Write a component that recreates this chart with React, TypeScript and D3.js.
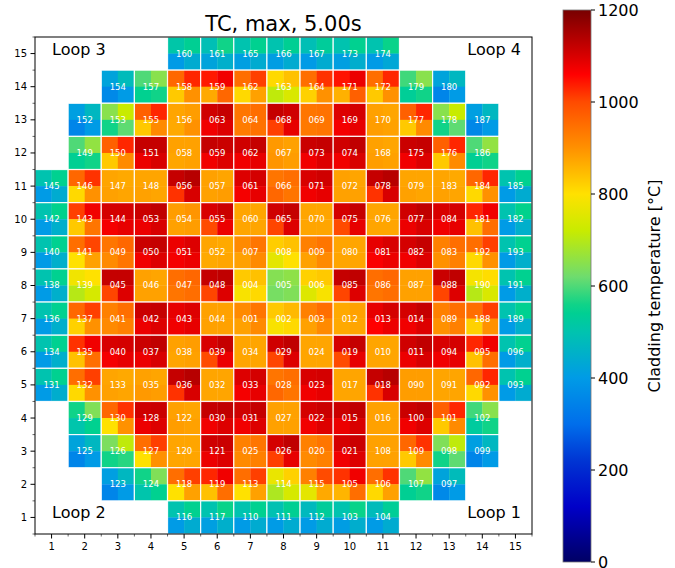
import React from "react";
import * as d3 from "d3";

// ---- data ----
const rowNumbers = [15, 14, 13, 12, 11, 10, 9, 8, 7, 6, 5, 4, 3, 2, 1];
const rowStartCol = [5, 3, 2, 2, 1, 1, 1, 1, 1, 1, 1, 2, 2, 3, 5];
const rowLabels: string[][] = [
  ["160", "161", "165", "166", "167", "173", "174"],
  ["154", "157", "158", "159", "162", "163", "164", "171", "172", "179", "180"],
  ["152", "153", "155", "156", "063", "064", "068", "069", "169", "170", "177", "178", "187"],
  ["149", "150", "151", "058", "059", "062", "067", "073", "074", "168", "175", "176", "186"],
  ["145", "146", "147", "148", "056", "057", "061", "066", "071", "072", "078", "079", "183", "184", "185"],
  ["142", "143", "144", "053", "054", "055", "060", "065", "070", "075", "076", "077", "084", "181", "182"],
  ["140", "141", "049", "050", "051", "052", "007", "008", "009", "080", "081", "082", "083", "192", "193"],
  ["138", "139", "045", "046", "047", "048", "004", "005", "006", "085", "086", "087", "088", "190", "191"],
  ["136", "137", "041", "042", "043", "044", "001", "002", "003", "012", "013", "014", "089", "188", "189"],
  ["134", "135", "040", "037", "038", "039", "034", "029", "024", "019", "010", "011", "094", "095", "096"],
  ["131", "132", "133", "035", "036", "032", "033", "028", "023", "017", "018", "090", "091", "092", "093"],
  ["129", "130", "128", "122", "030", "031", "027", "022", "015", "016", "100", "101", "102"],
  ["125", "126", "127", "120", "121", "025", "026", "020", "021", "108", "109", "098", "099"],
  ["123", "124", "118", "119", "113", "114", "115", "105", "106", "107", "097"],
  ["116", "117", "110", "111", "112", "103", "104"],
];
// quadrant temperatures per assembly: [top-left, top-right, bottom-left, bottom-right]
const rowTemps: number[][][] = [
  [[510, 540, 400, 440], [490, 560, 420, 450], [500, 545, 410, 440], [500, 540, 405, 440], [490, 530, 400, 440], [500, 545, 410, 445], [500, 555, 400, 430]],
  [[420, 480, 360, 400], [600, 650, 545, 560], [960, 1030, 830, 900], [1040, 1075, 870, 960], [950, 1010, 810, 880], [810, 840, 710, 745], [950, 1020, 820, 900], [1045, 1080, 860, 970], [950, 1030, 830, 900], [590, 650, 535, 560], [420, 470, 350, 400]],
  [[410, 470, 350, 400], [650, 720, 560, 610], [970, 1030, 830, 910], [875, 885, 870, 900], [1110, 1120, 1075, 1095], [940, 950, 930, 945], [1120, 1110, 1010, 1085], [940, 945, 935, 940], [1095, 1105, 1070, 1085], [880, 875, 885, 880], [970, 1030, 830, 910], [650, 720, 560, 610], [410, 470, 355, 400]],
  [[600, 660, 540, 560], [970, 1030, 830, 910], [1120, 1120, 1080, 1100], [880, 880, 875, 880], [1120, 1115, 1075, 1095], [1110, 1120, 1075, 1085], [890, 880, 895, 885], [1115, 1120, 1075, 1095], [1110, 1125, 1075, 1100], [880, 875, 885, 880], [1115, 1120, 1075, 1095], [970, 1030, 830, 910], [600, 660, 540, 560]],
  [[500, 545, 400, 440], [960, 1020, 810, 900], [875, 870, 880, 875], [875, 875, 880, 875], [1120, 1135, 1020, 1100], [880, 875, 880, 885], [1095, 1105, 1070, 1085], [940, 950, 960, 940], [1100, 1110, 1075, 1085], [880, 875, 880, 880], [1120, 1135, 1020, 1100], [875, 875, 880, 875], [875, 870, 880, 875], [960, 1030, 810, 900], [500, 545, 400, 440]],
  [[500, 550, 400, 450], [1010, 1075, 830, 940], [1105, 1105, 1070, 1085], [1115, 1125, 1080, 1100], [885, 895, 880, 885], [1100, 1115, 1000, 1080], [875, 875, 875, 875], [1110, 1120, 1005, 1095], [875, 875, 875, 875], [1105, 1120, 1000, 1085], [875, 875, 875, 875], [1110, 1125, 1080, 1100], [1100, 1105, 1075, 1085], [1030, 1075, 840, 950], [500, 550, 400, 450]],
  [[500, 545, 400, 450], [950, 1005, 800, 880], [940, 960, 910, 940], [1115, 1120, 1075, 1095], [1080, 1095, 1070, 1080], [875, 870, 870, 875], [910, 940, 880, 910], [825, 840, 760, 800], [925, 940, 880, 910], [875, 875, 875, 875], [1085, 1100, 1065, 1080], [1105, 1120, 1075, 1095], [925, 950, 900, 925], [950, 1010, 810, 900], [500, 545, 400, 450]],
  [[500, 545, 400, 450], [780, 800, 700, 740], [1120, 1120, 1005, 1095], [880, 875, 880, 880], [950, 960, 940, 950], [1120, 1125, 1005, 1095], [830, 840, 790, 810], [645, 655, 630, 640], [820, 830, 750, 790], [1120, 1125, 1005, 1095], [950, 960, 940, 950], [880, 880, 880, 880], [1115, 1125, 1005, 1095], [785, 805, 700, 745], [500, 545, 400, 450]],
  [[500, 545, 400, 450], [960, 1010, 820, 900], [925, 950, 910, 925], [1115, 1120, 1080, 1095], [1085, 1095, 1075, 1085], [880, 880, 880, 880], [910, 940, 880, 910], [830, 850, 790, 810], [925, 950, 880, 910], [870, 880, 870, 875], [1085, 1105, 1060, 1080], [1105, 1120, 1075, 1095], [925, 950, 900, 925], [950, 1010, 820, 900], [500, 545, 400, 450]],
  [[500, 545, 400, 450], [1020, 1075, 840, 950], [1100, 1105, 1070, 1085], [1115, 1125, 1080, 1100], [880, 885, 875, 880], [1100, 1120, 1000, 1080], [875, 875, 875, 875], [1110, 1125, 1005, 1095], [875, 875, 875, 875], [1105, 1120, 1000, 1085], [875, 875, 875, 875], [1110, 1125, 1080, 1100], [1100, 1105, 1075, 1085], [1030, 1075, 840, 950], [500, 545, 400, 450]],
  [[500, 545, 400, 445], [950, 1010, 810, 900], [875, 870, 880, 875], [880, 875, 890, 885], [1120, 1135, 1020, 1100], [875, 875, 875, 875], [1095, 1105, 1070, 1085], [940, 950, 960, 940], [1100, 1105, 1075, 1085], [875, 875, 875, 875], [1120, 1135, 1020, 1100], [885, 885, 885, 885], [875, 875, 875, 875], [960, 1030, 810, 900], [500, 545, 400, 440]],
  [[560, 640, 505, 545], [960, 1020, 800, 900], [1110, 1115, 1080, 1095], [880, 875, 885, 880], [1120, 1125, 1075, 1095], [1110, 1120, 1075, 1095], [880, 880, 880, 880], [1105, 1115, 1075, 1095], [1115, 1125, 1080, 1100], [880, 880, 880, 880], [1115, 1125, 1075, 1095], [970, 1030, 830, 910], [590, 650, 525, 560]],
  [[420, 470, 350, 400], [635, 710, 560, 575], [950, 1010, 800, 900], [875, 875, 875, 875], [1110, 1115, 1080, 1095], [925, 940, 910, 925], [1105, 1125, 1010, 1085], [925, 940, 910, 925], [1105, 1115, 1075, 1095], [880, 880, 880, 880], [960, 1020, 830, 910], [640, 710, 560, 610], [410, 470, 350, 400]],
  [[410, 470, 350, 400], [560, 640, 505, 545], [950, 1010, 800, 880], [1030, 1075, 840, 950], [950, 1010, 800, 880], [770, 820, 690, 740], [925, 1000, 760, 870], [1020, 1075, 855, 950], [950, 1020, 810, 880], [600, 660, 540, 560], [420, 480, 360, 400]],
  [[500, 545, 400, 440], [500, 555, 410, 450], [500, 545, 400, 440], [495, 540, 400, 440], [475, 530, 400, 440], [500, 555, 405, 445], [480, 535, 400, 440]],
];
const axisTicks = d3.range(1, 16);
const colorbarTicks = [0, 200, 400, 600, 800, 1000, 1200];
const cmapStops = [0, 120, 216, 300, 400, 500, 550, 620, 720, 800, 900, 1000, 1060, 1200];
const cmapColors = ["#000064", "#0000c8", "#0032d2", "#006eeb", "#009be6", "#00c3af", "#00d28c", "#6edc6e", "#c8eb00", "#ffe100", "#ff9100", "#ff4b00", "#ff0000", "#780000"];
const loopLabels = [
  { text: "Loop 3", corner: "tl" },
  { text: "Loop 4", corner: "tr" },
  { text: "Loop 2", corner: "bl" },
  { text: "Loop 1", corner: "br" },
];

const W = 675, H = 568;
const PL = 35, PR = 532, PT = 37, PB = 534;
const CB = { x: 563, w: 28, top: 10, bottom: 562 };
const font = "'DejaVu Sans', sans-serif";

export default function App() {
  const x = d3.scaleLinear().domain([0.5, 15.5]).range([PL, PR]);
  const y = d3.scaleLinear().domain([0.5, 15.5]).range([PB, PT]);
  const color = d3.scaleLinear<string>().domain(cmapStops).range(cmapColors).interpolate(d3.interpolateRgb).clamp(true);
  const cy = d3.scaleLinear().domain([0, 1200]).range([CB.bottom, CB.top]);

  const cells: any[] = [];
  rowNumbers.forEach((r, ri) => {
    rowLabels[ri].forEach((lab, ci) => {
      const c = rowStartCol[ri] + ci;
      cells.push({ r, c, lab, t: rowTemps[ri][ci] });
    });
  });

  const gradStops = d3.range(0, 1201, 20);
  const minor = d3.range(0.5, 15.6, 1);

  return (
    <svg width={W} height={H} style={{ position: "absolute", left: 0, top: 0, background: "#fff" }} fontFamily={font}>
      <defs>
        <linearGradient id="cb" x1="0" y1="1" x2="0" y2="0">
          {gradStops.map((v) => (
            <stop key={v} offset={v / 1200} stopColor={color(v)} />
          ))}
        </linearGradient>
      </defs>
      <text x={(PL + PR) / 2} y={30.5} textAnchor="middle" fontSize={21}>TC, max, 5.00s</text>
      {cells.map((d) => {
        const x0 = x(d.c - 0.5), x1 = x(d.c + 0.5), xm = x(d.c);
        const y0 = y(d.r + 0.5), y1 = y(d.r - 0.5), ym = y(d.r);
        const hw = (x1 - x0) / 2, hh = (y1 - y0) / 2;
        return (
          <g key={d.lab}>
            <rect x={x0} y={y0} width={hw + 0.3} height={hh + 0.3} fill={color(d.t[0])} />
            <rect x={xm} y={y0} width={hw} height={hh + 0.3} fill={color(d.t[1])} />
            <rect x={x0} y={ym} width={hw + 0.3} height={hh} fill={color(d.t[2])} />
            <rect x={xm} y={ym} width={hw} height={hh} fill={color(d.t[3])} />
            <rect x={x0} y={y0} width={x1 - x0} height={y1 - y0} fill="none" stroke="#fff" strokeWidth={1.2} strokeOpacity={0.9} />
            <text x={xm} y={ym} dy="0.35em" textAnchor="middle" fontSize={8.5} fill="#fff">{d.lab}</text>
          </g>
        );
      })}
      {loopLabels.map((l) => {
        const left = l.corner[1] === "l";
        const top = l.corner[0] === "t";
        return (
          <text key={l.text} x={left ? PL + 17 : PR - 11} y={top ? PT + 18 : PB - 16} textAnchor={left ? "start" : "end"} fontSize={16}>{l.text}</text>
        );
      })}
      <rect x={PL} y={PT} width={PR - PL} height={PB - PT} fill="none" stroke="#000" strokeWidth={1} />
      {axisTicks.map((t) => (
        <g key={"x" + t}>
          <line x1={x(t)} x2={x(t)} y1={PB} y2={PB + 4.5} stroke="#000" />
          <text x={x(t)} y={PB + 16} textAnchor="middle" fontSize={10}>{t}</text>
          <line x1={PL} x2={PL - 4.5} y1={y(t)} y2={y(t)} stroke="#000" />
          <text x={PL - 8} y={y(t)} dy="0.35em" textAnchor="end" fontSize={10}>{t}</text>
        </g>
      ))}
      {minor.map((t) => (
        <g key={"m" + t}>
          <line x1={x(t)} x2={x(t)} y1={PB} y2={PB + 2.5} stroke="#000" strokeWidth={0.6} />
          <line x1={PL} x2={PL - 2.5} y1={y(t)} y2={y(t)} stroke="#000" strokeWidth={0.6} />
        </g>
      ))}
      <rect x={CB.x} y={CB.top} width={CB.w} height={CB.bottom - CB.top} fill="url(#cb)" stroke="#777" strokeWidth={0.8} />
      {colorbarTicks.map((t) => (
        <g key={"c" + t}>
          <line x1={CB.x + CB.w} x2={CB.x + CB.w + 4} y1={cy(t)} y2={cy(t)} stroke="#000" />
          <text x={CB.x + CB.w + 7} y={cy(t)} dy="0.36em" fontSize={16}>{t}</text>
        </g>
      ))}
      <text transform={`translate(660,${(CB.top + CB.bottom) / 2}) rotate(-90)`} textAnchor="middle" fontSize={16}>Cladding temperature [°C]</text>
    </svg>
  );
}
